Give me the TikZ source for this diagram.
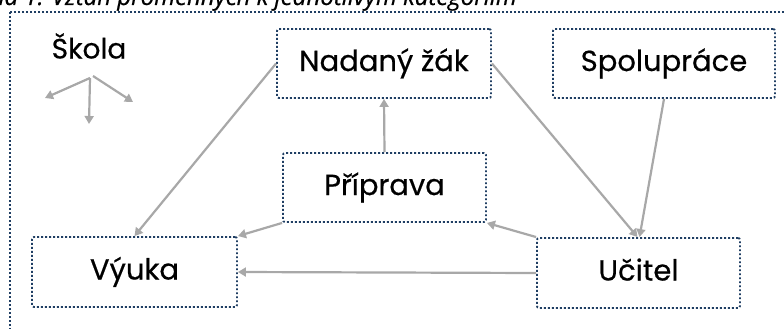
\documentclass[tikz,border=0pt]{standalone}
\usepackage{fontspec}
\setmainfont{Poppins}
\newfontfamily\boxfont{Poppins}[FakeBold=0.5]
\newfontfamily\capfont{Open Sans}[FakeBold=0.6]
\usetikzlibrary{arrows.meta}
\definecolor{dotblue}{RGB}{31,62,99}
\definecolor{arrgray}{RGB}{168,168,168}
\tikzset{
  box/.style={draw=dotblue, line width=1.9pt, dash pattern=on 1.9pt off 2.1pt,
    rounded corners=2pt, font=\boxfont\fontsize{29}{32}\selectfont, inner sep=0pt,
    text height=21pt, text depth=6pt},
  link/.style={draw=arrgray, line width=2.2pt, -{Triangle[length=8pt,width=9pt]}},
  frame/.style={draw=dotblue, line width=1.9pt, dash pattern=on 1.9pt off 2.1pt}
}
\begin{document}
\begin{tikzpicture}[x=1pt,y=-1pt]
\useasboundingbox (0,0) rectangle (784,329);
\fill[white] (0,0) rectangle (784,329);
\node[anchor=base east, font=\capfont\itshape\fontsize{24}{26}\selectfont, inner sep=0pt] (cap) at (517,5) {Schéma 1: Vztah proměnných k jednotlivým kategoriím};
\draw[frame] (10,12) rectangle (800,345);
\node[box, minimum width=214pt, minimum height=69pt] (nadany) at (384,63.5) {Nadaný žák};
\node[box, minimum width=222pt, minimum height=69pt] (spol) at (664,63.5) {Spolupráce};
\node[box, minimum width=203pt, minimum height=69pt] (pri) at (384.5,187.5) {Příprava};
\node[box, minimum width=205pt, minimum height=70pt] (vyuka) at (134.5,272) {Výuka};
\node[box, minimum width=203pt, minimum height=70pt] (ucitel) at (638.5,273) {Učitel};
\node[font=\boxfont\fontsize{28}{30}\selectfont, inner sep=0pt] (skola) at (89,46) {Škola};
\coordinate (s0) at (90,78);
\coordinate (sL) at (45,98);
\coordinate (sD) at (89,124);
\coordinate (sR0) at (93,76);
\coordinate (sR) at (133,102);
\draw[link] (s0) -- (sL);
\draw[link] (s0) -- (sD);
\draw[link] (sR0) -- (sR);
\draw[link] (nadany.west) -- (vyuka.north);
\draw[link] (nadany.east) -- ([xshift=-1pt]ucitel.north);
\draw[link] (spol.south) -- ([xshift=1pt]ucitel.north);
\draw[link] (pri.north) -- (nadany.south);
\draw[link] (pri.south west) -- (vyuka.north east);
\draw[link] (ucitel.north west) -- (pri.south east);
\draw[link] (ucitel.west) -- (vyuka.east);
\end{tikzpicture}
\end{document}
